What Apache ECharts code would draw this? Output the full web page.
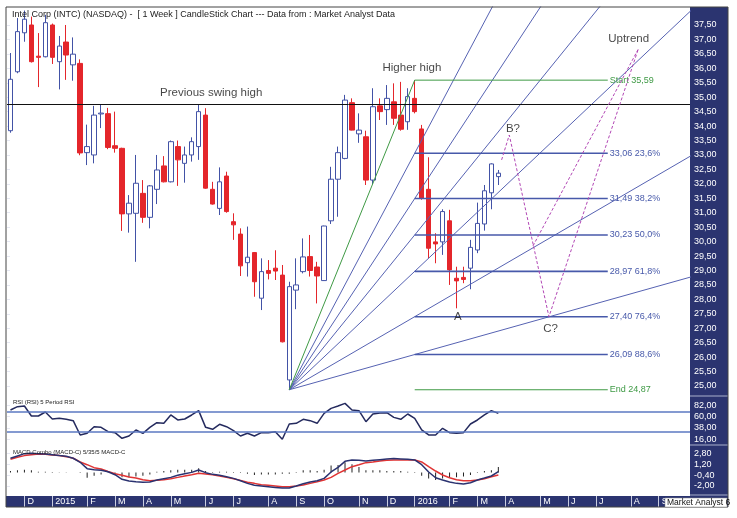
<!DOCTYPE html>
<html><head><meta charset="utf-8">
<script src="https://cdn.jsdelivr.net/npm/echarts@6/dist/echarts.min.js"></script>
<style>html,body{margin:0;padding:0;background:#fff}#c{width:737px;height:518px}</style>
</head><body><div id="c"></div>
<script>
// ---------- DATA ----------
const firstWeek = '2014-11-21';   // Friday of first weekly bar
const weekCount = 98;             // weeks shown on the time axis (incl. future)
const monthLetters = ['J','F','M','A','M','J','J','A','S','O','N','D'];

const candleOpen = [33.84,35.88,37.23,37.50,36.42,36.40,37.50,36.23,36.91,36.12,
36.17,33.08,33.00,34.42,34.43,33.32,33.23,30.96,30.98,31.67,
30.84,31.81,32.62,32.07,33.29,32.71,33.00,33.29,34.38,31.81,
31.15,32.27,30.69,30.26,29.27,29.62,28.04,29.00,29.08,28.84,
25.21,28.32,28.96,29.48,29.12,28.65,30.72,32.16,32.88,34.81,
33.73,33.63,32.13,34.70,34.57,34.84,34.38,34.15,34.96,33.90,
31.81,29.99,29.99,30.72,28.73,28.76,29.08,29.71,30.61,31.69,32.25];
const candleClose = [35.62,37.27,37.70,36.23,36.38,37.58,36.38,36.77,36.46,36.49,
33.07,33.29,34.38,34.45,33.26,33.23,30.96,31.33,32.02,30.84,
31.93,32.48,32.07,33.46,32.83,33.00,33.46,34.50,31.85,31.30,
32.07,31.04,30.58,29.16,29.46,28.61,28.96,28.90,28.98,26.53,
28.44,28.50,29.47,29.00,28.81,30.54,32.16,33.08,34.90,33.86,
33.86,32.13,34.67,34.50,34.96,34.27,33.89,35.02,34.50,31.50,
29.77,29.92,31.04,29.02,28.64,28.69,29.80,30.63,31.76,32.69,32.37];
const candleLow = [33.77,35.83,36.92,36.20,35.35,36.38,36.15,35.27,35.60,35.57,
32.99,32.65,32.71,33.93,33.20,33.08,30.37,30.31,29.30,30.65,
30.46,31.30,32.05,32.05,31.93,32.04,32.77,32.83,31.83,31.28,
30.92,31.00,30.06,28.81,28.79,28.09,27.63,28.69,28.67,26.51,
24.87,27.66,28.90,28.79,27.86,28.64,30.61,30.86,32.85,33.85,
33.42,31.96,31.99,34.21,34.04,34.04,33.84,33.87,34.44,31.45,
29.42,29.25,29.54,28.50,27.69,28.56,28.35,29.60,30.38,31.12,31.96];
const candleHigh = [36.53,37.74,38.00,37.79,37.22,37.85,37.55,37.12,37.50,37.07,
36.31,34.05,34.70,34.73,34.63,34.50,33.25,31.61,33.00,32.13,
31.96,33.00,32.96,33.50,33.50,33.29,33.61,34.73,34.62,32.07,
32.57,32.42,30.98,30.46,30.52,29.64,29.42,29.36,29.70,29.19,
28.61,29.42,30.11,30.23,29.30,30.55,32.59,33.29,35.08,34.96,
34.44,33.84,35.31,34.96,35.42,35.48,35.53,35.31,35.59,34.04,
32.92,30.29,31.12,31.10,29.13,29.13,30.06,31.35,31.96,32.71,32.48];

const rsiValues = [72.9,79.4,80.6,61.2,61.2,69,55.4,56.7,54.8,52.2,
24.4,27.6,40.5,39.2,30.8,28.9,17.9,22.4,34.1,27.6,
39.2,48.3,47,63.2,53.5,55.4,63.2,71.6,39.2,35.4,
45.1,40.5,32.8,22.4,27.6,22.4,28.9,28.9,30.8,16,
45.7,47,54.8,52.2,47,66.4,76.1,80.6,85.8,72.9,
71.6,50.2,65.1,67.1,67.7,58.6,54.8,65.1,56.7,34.1,
24.4,24.4,37.3,28.9,27.6,28.9,45.7,53.5,63.2,71.6,66.4];
const rsiLevels = [70, 30];

const macdLine = [2.07,2.41,2.75,2.8,2.75,2.7,2.6,2.46,2.36,2.07,
1.48,0.55,0.4,0.3,0.1,-0.34,-1.02,-1.27,-1.37,-1.46,
-1.41,-1.12,-0.92,-0.73,-0.43,-0.19,0.0,0.35,-0.04,-0.29,
-0.43,-0.63,-0.88,-1.22,-1.61,-1.9,-2.0,-2.1,-2.2,-2.3,
-2.3,-2.0,-1.66,-1.41,-1.22,-0.88,0.06,0.74,1.62,1.82,
1.77,1.67,1.77,1.87,1.97,2.02,1.97,1.92,1.82,1.13,
0.06,-0.78,-1.12,-1.41,-1.61,-1.71,-1.51,-1.12,-0.83,-0.53,0.11];
const macdSignal = [1.92,2.21,2.46,2.6,2.7,2.65,2.56,2.46,2.31,2.07,
1.53,1.13,0.69,0.5,0.15,-0.19,-0.43,-0.68,-0.83,-1.07,
-1.22,-1.17,-1.07,-0.92,-0.73,-0.53,-0.34,-0.14,-0.24,-0.34,
-0.53,-0.73,-0.92,-1.17,-1.46,-1.61,-1.81,-1.9,-2.0,-2.1,
-2.1,-2.0,-1.86,-1.61,-1.37,-1.12,-0.73,-0.14,0.35,0.84,
1.13,1.43,1.53,1.67,1.77,1.82,1.82,1.82,1.82,1.53,
0.84,0.2,-0.38,-0.78,-1.07,-1.22,-1.22,-1.12,-0.92,-0.63,-0.38];
const macdHist = [0.2,0.3,0.4,0.3,0.1,0.1,0.05,0.02,-0.05,0,
-0.1,-0.8,-0.5,-0.3,-0.1,-0.3,-0.7,-0.7,-0.6,-0.5,
-0.3,0.1,0.2,0.3,0.4,0.4,0.4,0.6,0.2,0.05,
0.1,0.1,0.05,-0.1,-0.2,-0.4,-0.3,-0.3,-0.3,-0.2,
-0.2,0.05,0.3,0.3,0.2,0.4,1.0,1.1,1.5,1.2,
0.8,0.3,0.3,0.3,0.2,0.2,0.2,0.1,0.05,-0.5,
-0.9,-1.1,-0.9,-0.8,-0.7,-0.6,-0.4,0.05,0.2,0.3,0.8];

const swingHigh = 34.75;
const fanOrigin = [40, 24.87];      // week index, price of the low
const fanPivotWeek = 58;            // week of the high
const fibStart = 35.59, fibEnd = 24.87;
const fibLevels = [33.06, 31.49, 30.23, 28.97, 27.40, 26.09];
const fibPercents = ['23,6%', '38,2%', '50,0%', '61,8%', '76,4%', '88,6%'];
const fibLineEndWeek = 85.7;
const abcPath = [[70.47, 32.83], [71.57, 33.69], [77.26, 27.40], [90.07, 36.66]];
const abcBranch = [[74.97, 29.85], [90.07, 36.66]];
const notes = [
  {name: 'Previous swing high', value: [28.8, 35.16]},
  {name: 'Higher high', value: [57.6, 36.0]},
  {name: 'B?', value: [72.1, 33.92]},
  {name: 'A', value: [64.2, 27.38]},
  {name: 'C?', value: [77.5, 26.99]},
  {name: 'Uptrend', value: [88.7, 37.02]}
];

// ---------- BUILD ----------
const weekDates = [];
const t0 = Date.parse(firstWeek + 'T00:00:00Z');
for (let i = 0; i < weekCount; i++) weekDates.push(new Date(t0 + i * 7 * 86400000).toISOString().slice(0, 10));
const isMonthStart = i => i > 0 && weekDates[i].slice(5, 7) !== weekDates[i - 1].slice(5, 7);
const monthLabel = v => { const m = +v.slice(5, 7) - 1; return m === 0 ? v.slice(0, 4) : monthLetters[m]; };
const fmt = v => (Math.round(v * 100) / 100).toFixed(2).replace('.', ',');
const candleData = candleOpen.map((o, i) => [o, candleClose[i], candleLow[i], candleHigh[i]]);

const FONT = 'Liberation Sans';
const NAVY = '#2b3470';
const FANBLUE = '#5662b2';
const FIBBLUE = '#4759aa';
const GREEN = '#3f9a45';

const L = 7, WID = 683;
const grids = [
  {left: L, top: 7, width: WID, height: 389},       // 0 price data
  {left: L, top: 25, width: WID, height: 361},      // 1 price labels
  {left: L, top: 398, width: WID, height: 45},      // 2 rsi data
  {left: L, top: 405.3, width: WID, height: 34},    // 3 rsi labels
  {left: L, top: 446, width: WID, height: 48},      // 4 macd data
  {left: L, top: 453.3, width: WID, height: 32.7},  // 5 macd labels
  {left: L, top: 496, width: WID, height: 11}       // 6 time band
];
const hiddenCat = g => ({type: 'category', gridIndex: g, data: weekDates, show: false, boundaryGap: true});
const hiddenVal = (g, min, max) => ({type: 'value', gridIndex: g, min, max, show: false, splitLine: {show: false}});
const labelY = (g, min, max, interval) => ({
  type: 'value', gridIndex: g, position: 'right', min, max, interval,
  axisLine: {show: false}, splitLine: {show: false},
  axisTick: {show: true, length: 3, lineStyle: {color: '#e6e8f2'}},
  axisLabel: {color: '#ffffff', fontSize: 9, fontFamily: FONT, margin: 4, formatter: fmt}
});

const xAxes = [
  hiddenCat(0),                 // 0 candles
  hiddenVal(0, -0.5, weekCount - 0.5), // 1 overlay drawings
  hiddenVal(1, 0, 1),           // 2
  hiddenCat(2),                 // 3 rsi
  hiddenVal(3, 0, 1),           // 4
  hiddenCat(4),                 // 5 macd
  hiddenVal(5, 0, 1),           // 6
  {                             // 7 time band
    type: 'category', gridIndex: 6, data: weekDates, boundaryGap: true,
    axisLine: {show: false}, splitLine: {show: false},
    axisTick: {show: true, inside: true, length: 11, alignWithLabel: true,
      interval: (i) => isMonthStart(i), lineStyle: {color: '#c9cde0', width: 1}},
    axisLabel: {show: true, inside: true, margin: 1, interval: (i) => isMonthStart(i),
      showMinLabel: true, showMaxLabel: true, hideOverlap: false,
      formatter: v => monthLabel(v), color: '#ffffff', fontSize: 9, fontFamily: FONT,
      align: 'left', padding: [0, 0, 0, 3]}
  }
];
const yAxes = [
  hiddenVal(0, 24.654, 38.123),
  labelY(1, 25, 37.5, 0.5),
  hiddenVal(2, 8.8, 96.17),
  labelY(3, 16, 82, 22),
  hiddenVal(4, -3.17, 3.87),
  labelY(5, -2, 2.8, 1.6),
  hiddenVal(6, 0, 1)
];

const series = [];
series.push({
  type: 'candlestick', xAxisIndex: 0, yAxisIndex: 0, data: candleData, barWidth: 5,
  itemStyle: {color: '#ffffff', color0: '#e4262b', borderColor: '#4252a6', borderColor0: '#e4262b', borderWidth: 1},
  markLine: {silent: true, symbol: ['none', 'none'], label: {show: false},
    lineStyle: {color: '#111', width: 1, type: 'solid'}, data: [{yAxis: swingHigh}]},
  z: 3
});
// fan lines from the low through the fib levels at the week of the high
const span = fanPivotWeek - fanOrigin[0];
fibLevels.forEach(lv => {
  const k = 8;
  series.push({type: 'line', xAxisIndex: 1, yAxisIndex: 0, symbol: 'none', silent: true, z: 4,
    lineStyle: {color: FANBLUE, width: 1},
    data: [fanOrigin, [fanOrigin[0] + k * span, fanOrigin[1] + k * (lv - fanOrigin[1])]]});
});
series.push({type: 'line', xAxisIndex: 1, yAxisIndex: 0, symbol: 'none', silent: true, z: 4,
  lineStyle: {color: GREEN, width: 1}, data: [fanOrigin, [fanPivotWeek, fibStart]]});
// fib retracement lines
const fibLine = (lv, text, color, width) => ({
  type: 'line', xAxisIndex: 1, yAxisIndex: 0, symbol: 'none', silent: true, z: 4,
  lineStyle: {color, width}, data: [[fanPivotWeek, lv], [fibLineEndWeek, lv]],
  endLabel: {show: true, formatter: text, color, fontSize: 9, fontFamily: FONT, distance: 2}
});
series.push(fibLine(fibStart, 'Start ' + fmt(fibStart), GREEN, 1));
fibLevels.forEach((lv, i) => series.push(fibLine(lv, fmt(lv) + ' ' + fibPercents[i], FIBBLUE, 1.6)));
series.push(fibLine(fibEnd, 'End ' + fmt(fibEnd), GREEN, 1));
// ABC projection
[abcPath, abcBranch].forEach(p => series.push({type: 'line', xAxisIndex: 1, yAxisIndex: 0, symbol: 'none', silent: true, z: 5,
  lineStyle: {color: '#b247b5', width: 1, type: [3, 2]}, data: p}));
// text notes
series.push({type: 'scatter', xAxisIndex: 1, yAxisIndex: 0, symbolSize: 0, silent: true, z: 6,
  label: {show: true, position: 'inside', formatter: p => p.name, color: '#151515', fontSize: 11.5, fontFamily: FONT},
  data: notes});
// RSI
series.push({type: 'line', xAxisIndex: 3, yAxisIndex: 2, data: rsiValues, symbol: 'none', silent: true,
  lineStyle: {color: '#242a5e', width: 1.5},
  markLine: {silent: true, symbol: ['none', 'none'], label: {show: false},
    lineStyle: {color: '#5b78c2', width: 1.5, type: 'solid'}, data: rsiLevels.map(v => ({yAxis: v}))}});
// MACD
series.push({type: 'bar', xAxisIndex: 5, yAxisIndex: 4, data: macdHist, barWidth: 1, silent: true,
  itemStyle: {color: '#222'}});
series.push({type: 'line', xAxisIndex: 5, yAxisIndex: 4, data: macdSignal, symbol: 'none', silent: true,
  lineStyle: {color: '#e03434', width: 1.5}});
series.push({type: 'line', xAxisIndex: 5, yAxisIndex: 4, data: macdLine, symbol: 'none', silent: true,
  lineStyle: {color: '#2a3270', width: 1.5}});

const titleStyle = (size) => ({fontSize: size, fontWeight: 'normal', color: '#222', fontFamily: FONT});
const option = {
  animation: false,
  backgroundColor: '#ffffff',
  title: [
    {text: 'Intel Corp (INTC) (NASDAQ) -  [ 1 Week ] CandleStick Chart --- Data from : Market Analyst Data',
      left: 12, top: 10, padding: 0, textStyle: titleStyle(9)},
    {text: 'RSI (RSI) 5 Period RSI', left: 13, top: 399, padding: 0, textStyle: titleStyle(6)},
    {text: 'MACD Combo (MACD-C) 5/35/5 MACD-C', left: 13, top: 449, padding: 0, textStyle: titleStyle(6)}
  ],
  grid: grids,
  xAxis: xAxes,
  yAxis: yAxes,
  series,
  graphic: {elements: [
    {type: 'rect', z: -10, shape: {x: 690, y: 7, width: 38, height: 500}, style: {fill: NAVY}},
    {type: 'rect', z: -10, shape: {x: 6, y: 496, width: 684, height: 11}, style: {fill: NAVY}},
    {type: 'line', z: 50, shape: {x1: 690, y1: 396, x2: 728, y2: 396}, style: {stroke: '#aab0cc', lineWidth: 1}},
    {type: 'line', z: 50, shape: {x1: 690, y1: 445, x2: 728, y2: 445}, style: {stroke: '#aab0cc', lineWidth: 1}},
    {type: 'line', z: 50, shape: {x1: 690, y1: 495, x2: 728, y2: 495}, style: {stroke: '#aab0cc', lineWidth: 1}},
    {type: 'rect', z: 50, shape: {x: 6, y: 7, width: 722, height: 500}, style: {fill: 'none', stroke: '#444', lineWidth: 1}},
    {type: 'rect', z: 60, shape: {x: 665, y: 498, width: 62, height: 9}, style: {fill: '#ffffff', stroke: '#888', lineWidth: 0.5}},
    {type: 'text', z: 61, x: 667, y: 498.5, style: {text: 'Market Analyst 6', fill: '#111', fontSize: 8.5, fontFamily: FONT}}
  ]}
};
const chart = echarts.init(document.getElementById('c'), null, {renderer: 'canvas'});
chart.setOption(option);
</script></body></html>
